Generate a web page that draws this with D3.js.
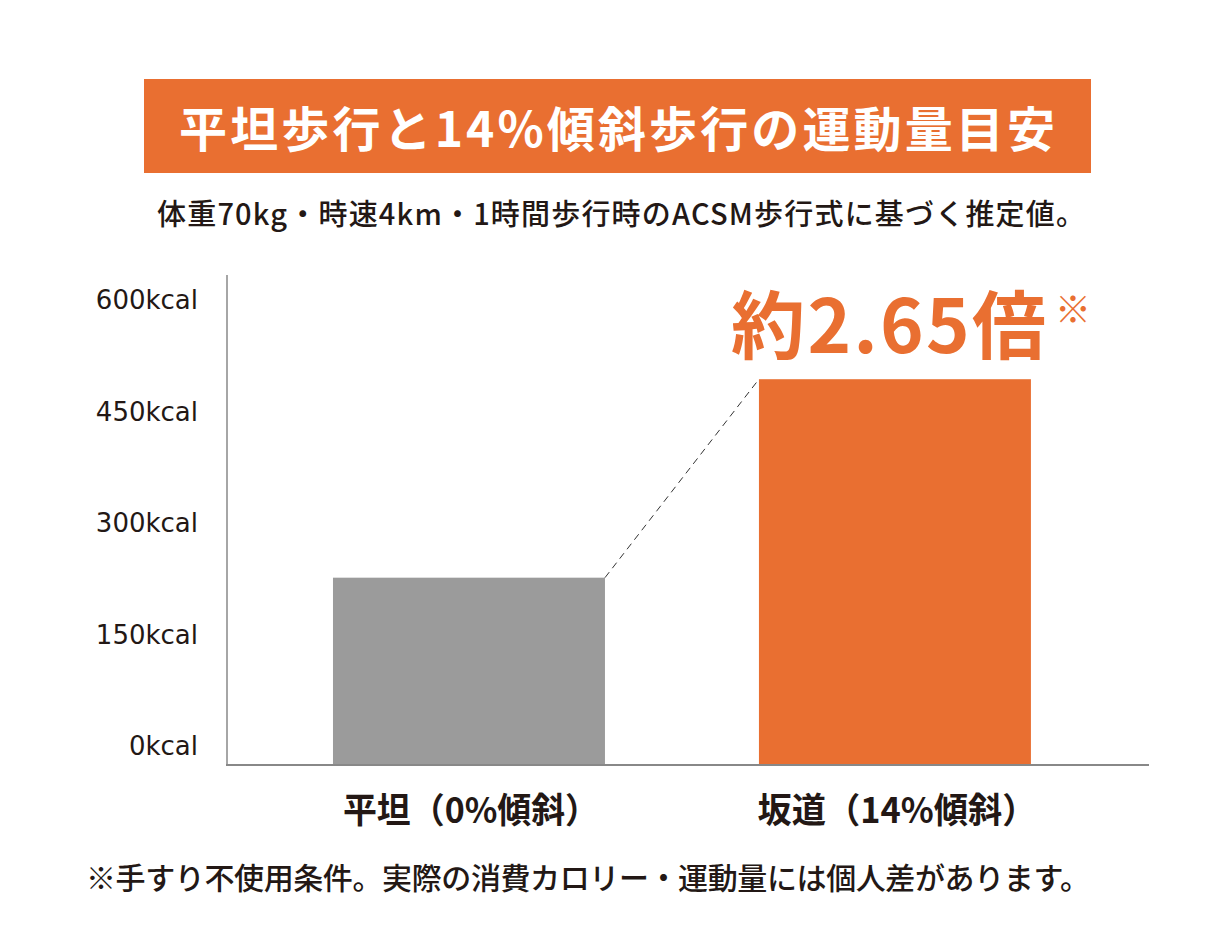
<!DOCTYPE html>
<html><head><meta charset="utf-8">
<script src="https://cdn.jsdelivr.net/npm/d3@7"></script>
<style>body{margin:0;background:#fff}svg{display:block}</style>
</head><body>
<script>
const categories = ["平坦（0%傾斜）", "坂道（14%傾斜）"];
const values = [252, 519];
const tickValues = [0, 150, 300, 450, 600];
const tickLabels = ["0kcal", "150kcal", "300kcal", "450kcal", "600kcal"];
const title = "平坦歩行と14%傾斜歩行の運動量目安";
const subtitle = "体重70kg・時速4km・1時間歩行時のACSM歩行式に基づく推定値。";
const ratioLabel = "約2.65倍";
const footnote = "※手すり不使用条件。実際の消費カロリー・運動量には個人差があります。";

const W = 1230, H = 936;
const ORANGE = "#E96F31", GRAY = "#9B9B9B", INK = "#231815";
const JP = "'Noto Sans CJK JP','Noto Sans',sans-serif";

const svg = d3.select("body").append("svg").attr("width", W).attr("height", H);

// Title banner
svg.append("rect").attr("x", 144).attr("y", 79).attr("width", 947).attr("height", 94).attr("fill", ORANGE);
svg.append("text").attr("x", 617).attr("y", 126).attr("text-anchor", "middle").attr("dominant-baseline", "central")
  .attr("font-family", JP).attr("font-weight", 700).attr("font-size", 48).attr("fill", "#fff")
  .attr("textLength", 876).attr("lengthAdjust", "spacing").text(title);
svg.append("text").attr("x", 621).attr("y", 212).attr("text-anchor", "middle").attr("dominant-baseline", "central")
  .attr("font-family", JP).attr("font-weight", 500).attr("font-size", 29).attr("fill", INK)
  .attr("textLength", 928).attr("lengthAdjust", "spacing").text(subtitle);

// Scales
const x = d3.scaleBand().domain(categories).range([227, 1149])
  .paddingInner(0.3615).paddingOuter(0.263).align(0.473);
const y = d3.scaleLinear().domain([0, 600]).range([765, 319]);

// Y tick labels
const g = svg.append("g");
g.selectAll("text.tick").data(tickValues).join("text").attr("class", "tick")
  .attr("x", 198).attr("y", d => y(d) - 10).attr("text-anchor", "end")
  .attr("font-family", "'DejaVu Sans',sans-serif").attr("font-size", 26).attr("fill", INK)
  .text((d, i) => tickLabels[i]);

// Bars
g.selectAll("rect.bar").data(categories).join("rect").attr("class", "bar")
  .attr("x", d => x(d)).attr("width", x.bandwidth())
  .attr("y", (d, i) => y(values[i])).attr("height", (d, i) => y(0) - y(values[i]))
  .attr("fill", (d, i) => i === 0 ? GRAY : ORANGE);

// Dashed connector
svg.append("line")
  .attr("x1", x(categories[0]) + x.bandwidth()).attr("y1", y(values[0]))
  .attr("x2", x(categories[1])).attr("y2", y(values[1]))
  .attr("stroke", "#333").attr("stroke-width", 1).attr("stroke-dasharray", "7,5");

// Axes lines
svg.append("line").attr("x1", 227).attr("x2", 227).attr("y1", 275).attr("y2", y(0))
  .attr("stroke", "#888").attr("stroke-width", 1.5);
svg.append("line").attr("x1", 226).attr("x2", 1149).attr("y1", y(0)).attr("y2", y(0))
  .attr("stroke", "#888").attr("stroke-width", 2);

// Category labels
const catWidths = [256, 279];
g.selectAll("text.cat").data(categories).join("text").attr("class", "cat")
  .attr("x", d => x(d) + x.bandwidth() / 2 + 2).attr("y", 807)
  .attr("text-anchor", "middle").attr("dominant-baseline", "central")
  .attr("font-family", JP).attr("font-weight", 700).attr("font-size", 35).attr("fill", INK)
  .attr("textLength", (d, i) => catWidths[i]).attr("lengthAdjust", "spacingAndGlyphs")
  .text(d => d);

// Ratio label
svg.append("text").attr("x", 731).attr("y", 320).attr("dominant-baseline", "central")
  .attr("font-family", JP).attr("font-weight", 700).attr("font-size", 74).attr("fill", ORANGE)
  .attr("textLength", 315).attr("lengthAdjust", "spacing").text(ratioLabel);
svg.append("text").attr("x", 1073).attr("y", 307).attr("text-anchor", "middle").attr("dominant-baseline", "central")
  .attr("font-family", JP).attr("font-weight", 400).attr("font-size", 36).attr("fill", ORANGE).text("※");

// Footnote
svg.append("text").attr("x", 86).attr("y", 876).attr("dominant-baseline", "central")
  .attr("font-family", JP).attr("font-weight", 500).attr("font-size", 30).attr("fill", INK)
  .attr("textLength", 1004).attr("lengthAdjust", "spacing").text(footnote);
</script>
</body></html>
